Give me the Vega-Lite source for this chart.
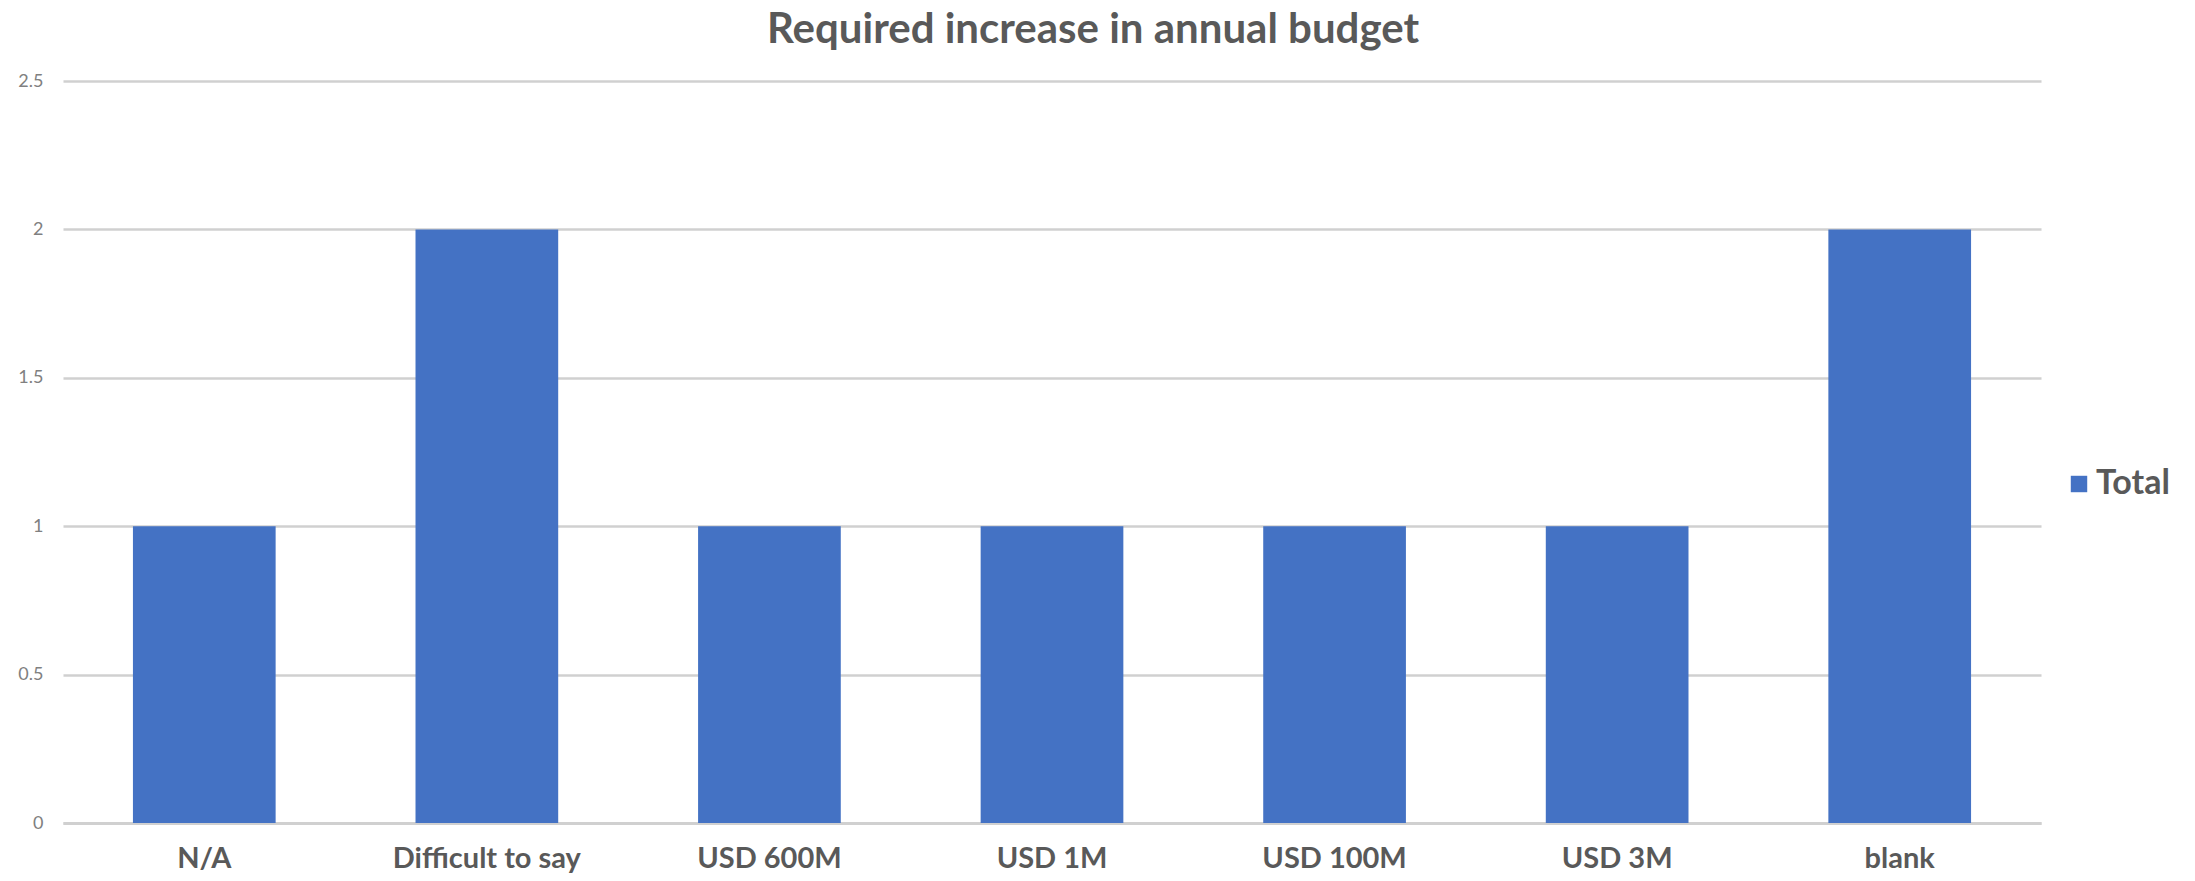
{
  "$schema": "https://vega.github.io/schema/vega-lite/v6.json",
  "autosize": {"type": "none"},
  "width": 1978,
  "height": 742,
  "padding": {"left": 63, "top": 81, "right": 154, "bottom": 58},
  "background": "white",
  "config": {"view": {"stroke": null}},
  "title": {
    "text": "Required increase in annual budget",
    "font": "Lato",
    "fontSize": 42,
    "fontWeight": "bold",
    "color": "#595959",
    "anchor": "middle",
    "offset": 36,
    "dy": 16,
    "dx": 41
  },
  "data": {
    "values": [
      {"category": "N/A", "series": "Total", "value": 1},
      {"category": "Difficult to say", "series": "Total", "value": 2},
      {"category": "USD 600M", "series": "Total", "value": 1},
      {"category": "USD 1M", "series": "Total", "value": 1},
      {"category": "USD 100M", "series": "Total", "value": 1},
      {"category": "USD 3M", "series": "Total", "value": 1},
      {"category": "blank", "series": "Total", "value": 2}
    ]
  },
  "mark": {"type": "bar", "color": "#4472C4"},
  "encoding": {
    "x": {
      "field": "category",
      "type": "nominal",
      "sort": null,
      "title": null,
      "scale": {"paddingInner": 0.495, "paddingOuter": 0.2475},
      "axis": {
        "labelAngle": 0,
        "labelFont": "Lato",
        "labelFontSize": 29,
        "labelFontWeight": "bold",
        "labelColor": "#595959",
        "labelPadding": 21,
        "labelLimit": 0,
        "ticks": false,
        "domainColor": "#d0d0d0",
        "domainWidth": 3,
        "grid": false
      }
    },
    "y": {
      "field": "value",
      "type": "quantitative",
      "title": null,
      "scale": {"domain": [0, 2.5]},
      "axis": {
        "values": [0, 0.5, 1, 1.5, 2, 2.5],
        "format": "",
        "labelFont": "Lato",
        "labelFontSize": 18,
        "labelColor": "#808080",
        "labelPadding": 20,
        "ticks": false,
        "domain": false,
        "gridColor": "#d0d0d0",
        "gridWidth": 2.5
      }
    },
    "fill": {
      "field": "series",
      "type": "nominal",
      "scale": {"range": ["#4472C4"]},
      "legend": {
        "title": null,
        "orient": "none",
        "legendX": 1999,
        "legendY": 386,
        "symbolType": "square",
        "symbolSize": 270,
        "symbolStrokeWidth": 0,
        "labelFont": "Lato",
        "labelFontSize": 34,
        "labelFontWeight": "bold",
        "labelColor": "#595959",
        "labelOffset": 0
      }
    }
  }
}
